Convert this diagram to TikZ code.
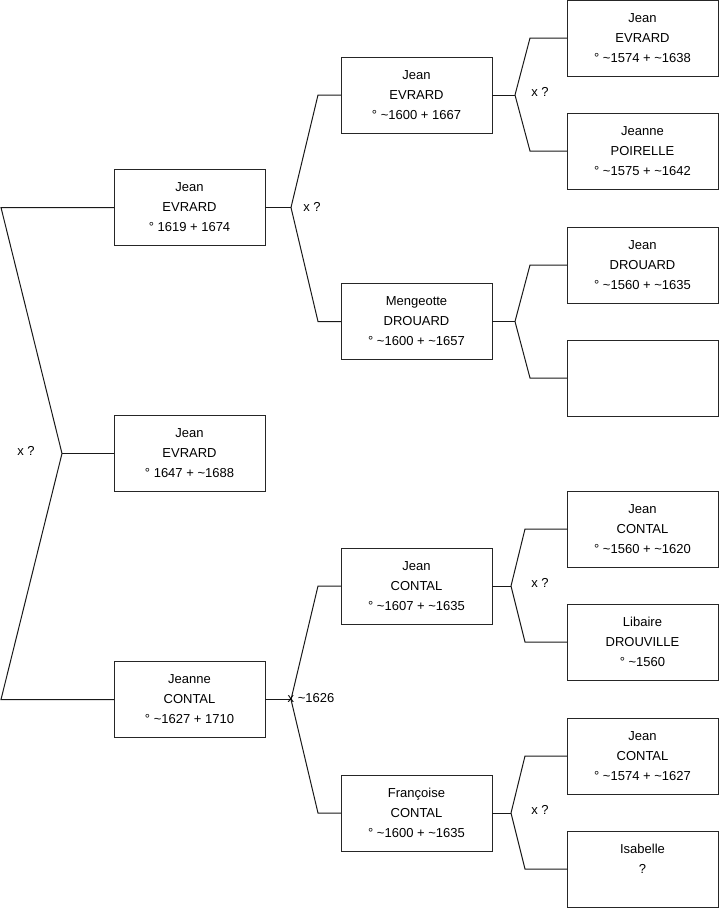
\documentclass[tikz,border=0pt]{standalone}
\usepackage{fontspec}
\setmainfont{Liberation Sans}
\usepackage{tikz}
\usetikzlibrary{positioning,calc}

\newcommand{\abt}{\textasciitilde}

\begin{document}
\begin{tikzpicture}[
  x=1pt, y=-1pt,
  person/.style={rectangle, draw=black!85, line width=1pt, outer sep=0pt, minimum width=151pt, minimum height=76pt, align=center, font=\fontsize{13}{20}\selectfont},
  union/.style={font=\fontsize{13}{15}\selectfont, inner sep=0pt},
  link/.style={draw=black!90, line width=1pt, line join=miter}
]
\useasboundingbox (0,0) rectangle (719,908);

\node[person] (root) at (189.5,453.5) {Jean\\EVRARD\\° 1647 + \abt1688};

\node[person] (dad) [above=170pt of root] {Jean\\EVRARD\\° 1619 + 1674};
\node[person] (mum) [below=170pt of root] {Jeanne\\CONTAL\\° \abt1627 + 1710};
\coordinate (j_root) at ([xshift=-52pt]root.west);
\draw[link] (root.west) -- (j_root);
\draw[link] (j_root) -- ([xshift=-113pt]dad.west) -- (dad.west);
\draw[link] (j_root) -- ([xshift=-113pt]mum.west) -- (mum.west);
\node[union] (u_root) at (26,451) {x ?};

\node[person] (dad_dad) at (416.5,95) {Jean\\EVRARD\\° \abt1600 + 1667};
\node[person] (dad_mum) at (416.5,321.5) {Mengeotte\\DROUARD\\° \abt1600 + \abt1657};
\coordinate (j_dad) at ([xshift=26pt]dad.east);
\draw[link] (dad.east) -- (j_dad);
\draw[link] (j_dad) -- ([xshift=-23pt]dad_dad.west) -- (dad_dad.west);
\draw[link] (j_dad) -- ([xshift=-23pt]dad_mum.west) -- (dad_mum.west);
\node[union] (u_dad) at (312,207) {x ?};

\node[person] (mum_dad) at (416.5,586) {Jean\\CONTAL\\° \abt1607 + \abt1635};
\node[person] (mum_mum) at (416.5,813) {Françoise\\CONTAL\\° \abt1600 + \abt1635};
\coordinate (j_mum) at ([xshift=26pt]mum.east);
\draw[link] (mum.east) -- (j_mum);
\draw[link] (j_mum) -- ([xshift=-23pt]mum_dad.west) -- (mum_dad.west);
\draw[link] (j_mum) -- ([xshift=-23pt]mum_mum.west) -- (mum_mum.west);
\node[union, anchor=west] (u_mum) at (287.5,698) {x \abt1626};

\node[person] (dd_d) at (642.5,38) {Jean\\EVRARD\\° \abt1574 + \abt1638};
\node[person] (dd_m) [below=37pt of dd_d] {Jeanne\\POIRELLE\\° \abt1575 + \abt1642};
\coordinate (j_dd) at ([xshift=23pt]dad_dad.east);
\draw[link] (dad_dad.east) -- (j_dd);
\draw[link] (j_dd) -- ([xshift=-37pt]dd_d.west) -- (dd_d.west);
\draw[link] (j_dd) -- ([xshift=-37pt]dd_m.west) -- (dd_m.west);
\node[union] (u_dd) at (540,92) {x ?};

\node[person] (dm_d) at (642.5,265) {Jean\\DROUARD\\° \abt1560 + \abt1635};
\node[person] (dm_m) [below=37pt of dm_d] {};
\coordinate (j_dm) at ([xshift=23pt]dad_mum.east);
\draw[link] (dad_mum.east) -- (j_dm);
\draw[link] (j_dm) -- ([xshift=-37pt]dm_d.west) -- (dm_d.west);
\draw[link] (j_dm) -- ([xshift=-37pt]dm_m.west) -- (dm_m.west);

\node[person] (md_d) at (642.5,529) {Jean\\CONTAL\\° \abt1560 + \abt1620};
\node[person] (md_m) [below=37pt of md_d] {Libaire\\DROUVILLE\\° \abt1560};
\coordinate (j_md) at ([xshift=19pt]mum_dad.east);
\draw[link] (mum_dad.east) -- (j_md);
\draw[link] (j_md) -- ([xshift=-42pt]md_d.west) -- (md_d.west);
\draw[link] (j_md) -- ([xshift=-42pt]md_m.west) -- (md_m.west);
\node[union] (u_md) at (540,583) {x ?};

\node[person] (mm_d) at (642.5,756) {Jean\\CONTAL\\° \abt1574 + \abt1627};
\node[person] (mm_m) [below=37pt of mm_d] {Isabelle\\?\\\mbox{}};
\coordinate (j_mm) at ([xshift=19pt]mum_mum.east);
\draw[link] (mum_mum.east) -- (j_mm);
\draw[link] (j_mm) -- ([xshift=-42pt]mm_d.west) -- (mm_d.west);
\draw[link] (j_mm) -- ([xshift=-42pt]mm_m.west) -- (mm_m.west);
\node[union] (u_mm) at (540,810) {x ?};

\end{tikzpicture}
\end{document}
